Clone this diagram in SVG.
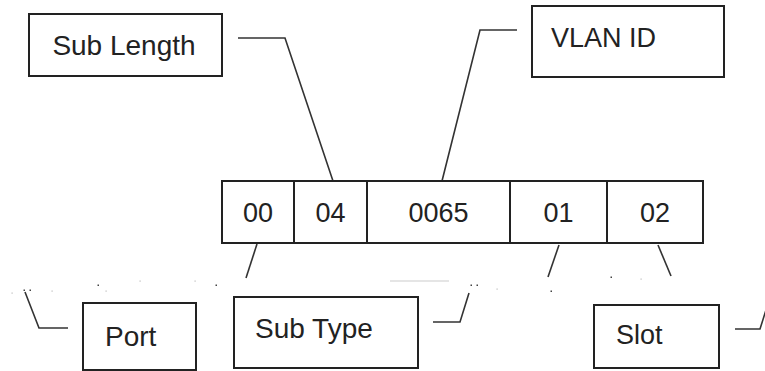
<svg xmlns="http://www.w3.org/2000/svg" width="765" height="371" viewBox="0 0 765 371">
<style>
.box{fill:#fff;stroke:#222;stroke-width:2}
.t{font-family:"Liberation Sans",Arial,sans-serif;font-size:27px;fill:#222}
.lg{font-size:28px}
.c{fill:none;stroke:#333;stroke-width:1.6}
.d{fill:#444}
.l{fill:#bbb}
</style>
<rect width="765" height="371" fill="#fff"/>
<g id="connectors">
<polyline class="c" points="238,38 285,38 333,181"/>
<polyline class="c" points="517,30 480,30 442,181"/>
<polyline class="c" points="257,244 246,278"/>
<polyline class="c" points="559,245 548,277"/>
<polyline class="c" points="658,245 671,276"/>
<polyline class="c" points="25,292 39,328 68,328"/>
<polyline class="c" points="433,322 460,322 469,293"/>
<polyline class="c" points="735,329 760,329 766,310"/>
<line x1="390" y1="281" x2="449" y2="281" stroke="#ccc" stroke-width="1.2"/>
<g id="dots">
<rect class="l" x="11.5" y="292.5" width="1.2" height="1.2"/>
<rect class="d" x="23.5" y="289.5" width="1.5" height="1.5"/>
<rect class="d" x="29.5" y="289.5" width="1.5" height="1.5"/>
<rect class="l" x="51.5" y="290.5" width="1.2" height="1.2"/>
<rect class="d" x="97.5" y="284.5" width="1.5" height="1.5"/>
<rect class="l" x="105.5" y="290.5" width="1.2" height="1.2"/>
<rect class="l" x="139.5" y="280.5" width="1.2" height="1.2"/>
<rect class="l" x="194.5" y="280.5" width="1.2" height="1.2"/>
<rect class="d" x="215.5" y="284.5" width="1.5" height="1.5"/>
<rect class="d" x="470.5" y="284.5" width="1.5" height="1.5"/>
<rect class="d" x="476.5" y="284.5" width="1.5" height="1.5"/>
<rect class="l" x="496.5" y="288.5" width="1.2" height="1.2"/>
<rect class="d" x="550.5" y="290.5" width="1.5" height="1.5"/>
<rect class="d" x="610.5" y="276.5" width="1.5" height="1.5"/>
<rect class="l" x="640.5" y="278.5" width="1.2" height="1.2"/>
</g>
</g>
<g id="sub-length">
<rect class="box" x="29" y="14" width="193" height="62"/>
<text class="t lg" x="124" y="55" text-anchor="middle">Sub Length</text>
</g>
<g id="vlan-id">
<rect class="box" x="532" y="6" width="192" height="71"/>
<text class="t" x="551" y="47">VLAN ID</text>
</g>
<g id="table">
<rect class="box" x="222" y="181" width="481" height="62"/>
<line x1="294" y1="181" x2="294" y2="243" stroke="#222" stroke-width="2"/>
<line x1="367" y1="181" x2="367" y2="243" stroke="#222" stroke-width="2"/>
<line x1="510" y1="181" x2="510" y2="243" stroke="#222" stroke-width="2"/>
<line x1="607" y1="181" x2="607" y2="243" stroke="#222" stroke-width="2"/>
<text class="t" x="258" y="222" text-anchor="middle">00</text>
<text class="t" x="330.5" y="222" text-anchor="middle">04</text>
<text class="t" x="438.5" y="222" text-anchor="middle">0065</text>
<text class="t" x="558.5" y="222" text-anchor="middle">01</text>
<text class="t" x="655" y="222" text-anchor="middle">02</text>
</g>
<g id="port">
<rect class="box" x="83" y="303" width="113" height="67"/>
<text class="t lg" x="105" y="346">Port</text>
</g>
<g id="sub-type">
<rect class="box" x="234" y="297" width="184" height="71"/>
<text class="t lg" x="255" y="338">Sub Type</text>
</g>
<g id="slot">
<rect class="box" x="594" y="305" width="125" height="63"/>
<text class="t" x="616" y="344">Slot</text>
</g>
</svg>
